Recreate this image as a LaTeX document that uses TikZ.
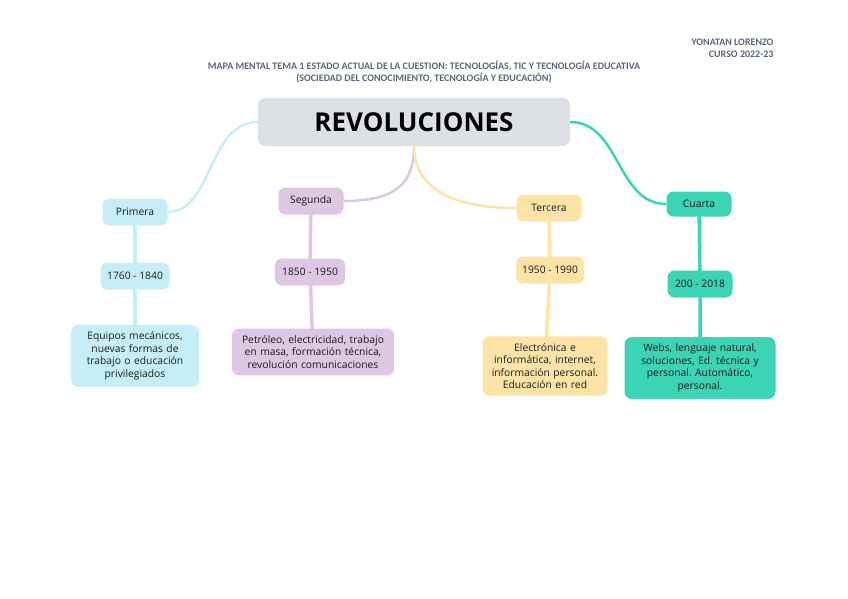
\documentclass[tikz,border=0pt]{standalone}
\usepackage{fontspec}
\setmainfont{Open Sans}
\newfontfamily\headfont{Carlito}
\usetikzlibrary{backgrounds,positioning}

\definecolor{grisc}{HTML}{DDE0E4}
\definecolor{cian}{HTML}{C6EEF6}
\definecolor{lila}{HTML}{DDC7E2}
\definecolor{amar}{HTML}{FDE3A6}
\definecolor{verde}{HTML}{3BD5B5}
\definecolor{cabe}{HTML}{5A6478}
\definecolor{letra}{HTML}{1A1A1A}

\begin{document}
\frenchspacing
\begin{tikzpicture}[x=1pt,y=-1pt,
  caja/.style={rounded corners=7pt, inner sep=0pt, align=center, text=letra, font=\fontsize{10.3}{12.5}\selectfont},
  chica/.style={caja, minimum width=65pt, minimum height=27pt},
  grande/.style={caja, inner xsep=6pt, inner ysep=7pt},
  rama/.style={line width=3.5pt, line cap=round}]

\useasboundingbox (0,0) rectangle (848,599);

% cabecera
\node[anchor=east, align=right, text=cabe, font=\headfont\bfseries\fontsize{10}{12}\selectfont] (autor) at (777,48) {YONATAN LORENZO\\CURSO 2022-23};
\node[align=center, text=cabe, font=\headfont\bfseries\fontsize{10}{12}\selectfont] (titulo) at (424,72)
  {MAPA MENTAL TEMA 1 ESTADO ACTUAL DE LA CUESTION: TECNOLOGÍAS, TIC Y TECNOLOGÍA EDUCATIVA\\(SOCIEDAD DEL CONOCIMIENTO, TECNOLOGÍA Y EDUCACIÓN)};

% centro
\node[fill=grisc, rounded corners=7pt, minimum width=312pt, minimum height=48pt, font=\bfseries\fontsize{26}{30}\selectfont] (rev) at (414,122) {REVOLUCIONES};

% primera
\node[chica, fill=cian] (prim) at (135,212) {Primera};
\node[chica, fill=cian, minimum width=69pt] (prim2) at (135,276) {1760 - 1840};
\node[grande, fill=cian, text width=116pt] (prim3) at (135,356) {Equipos mecánicos,\\nuevas formas de\\trabajo o educación\\privilegiados};

% segunda
\node[chica, fill=lila] (seg) at (311,201) {Segunda};
\node[chica, fill=lila, minimum width=70pt] (seg2) at (310,272) {1850 - 1950};
\node[grande, fill=lila, text width=150pt] (seg3) at (313,352) {Petróleo, electricidad, trabajo\\en masa, formación técnica,\\revolución comunicaciones};

% tercera
\node[chica, fill=amar] (ter) at (549,208) {Tercera};
\node[chica, fill=amar, minimum width=68pt] (ter2) at (550,270) {1950 - 1990};
\node[grande, fill=amar, text width=113pt] (ter3) at (545,366) {Electrónica e\\informática, internet,\\información personal.\\Educación en red};

% cuarta
\node[chica, fill=verde, minimum height=25pt] (cua) at (699,204) {Cuarta};
\node[chica, fill=verde] (cua2) at (700,284) {200 - 2018};
\node[grande, fill=verde, text width=139pt] (cua3) at (700,368) {Webs, lenguaje natural,\\soluciones, Ed. técnica y\\personal. Automático,\\personal.};

\begin{scope}[on background layer]
\draw[cian, line width=2.5pt] (prim.east) .. controls +(45,0) and +(-50,0) .. (rev.west);
\draw[lila, line width=2.5pt] (seg.east) .. controls +(55,0) and +(0,35) .. (rev.south);
\draw[amar, line width=2.5pt] (ter.west) .. controls +(-75,0) and +(0,35) .. (rev.south);
\draw[verde, line width=2.5pt] (cua.west) .. controls +(-50,0) and +(50,0) .. (rev.east);

\draw[rama, cian] (prim.center) -- (prim2.center) -- (prim3.center);
\draw[rama, lila] (seg.center) -- (seg2.center) -- (seg3.center);
\draw[rama, amar] (ter.center) -- (ter2.center) -- (ter3.center);
\draw[rama, verde] (cua.center) -- (cua2.center) -- (cua3.center);
\end{scope}
\end{tikzpicture}
\end{document}
